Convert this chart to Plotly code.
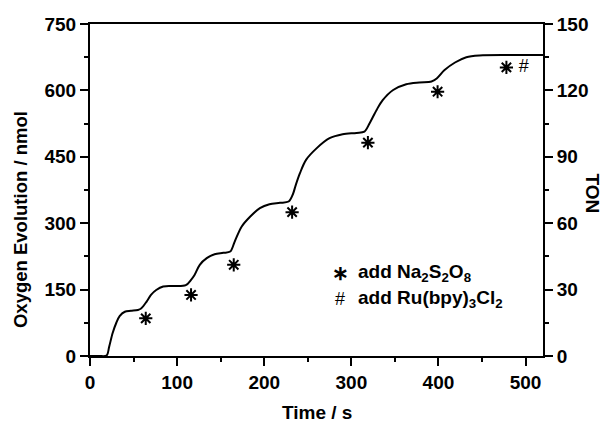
import plotly.graph_objects as go

# Curve (time in s, oxygen in nmol)
time_s = [0, 10, 19, 22, 26, 30, 34, 40, 47, 55, 59, 65, 70, 76, 84, 97, 110, 116, 120, 126,
          134, 143, 153, 161, 166, 174, 184, 195, 206, 218, 228, 233, 236, 241, 248, 260, 275, 290, 306, 315, 321,
          329, 336, 348, 363, 378, 392, 398, 407, 419, 432, 447, 482, 520]
oxygen_nmol = [0, 0, 1, 21, 52, 74, 90, 100, 102, 104, 108, 123, 138, 149, 157, 158, 160, 172, 183, 206,
               221, 230, 233, 236, 258, 292, 315, 334, 343, 346, 349, 366, 385, 413, 443, 469, 492, 501, 504, 507, 526,
               556, 578, 601, 614, 618, 620, 627, 646, 663, 675, 679, 680, 680]

# Na2S2O8 additions (asterisks) and Ru(bpy)3Cl2 addition (hash)
add_na_time = [64, 116, 165, 232, 319, 399, 478]
add_na_val = [85, 138, 206, 325, 482, 597, 652]
add_ru_time = [498]
add_ru_val = [652]

FONT = "Liberation Sans, Arial, sans-serif"

fig = go.Figure()
fig.add_trace(go.Scatter(x=time_s, y=oxygen_nmol, mode="lines",
                         line=dict(color="black", width=2, shape="spline", smoothing=0.9),
                         showlegend=False))
fig.add_trace(go.Scatter(x=add_na_time, y=add_na_val, mode="markers",
                         marker=dict(symbol="asterisk-open", size=11, color="black",
                                     line=dict(color="black", width=2)),
                         showlegend=False))
fig.add_trace(go.Scatter(x=add_ru_time, y=add_ru_val, mode="text", text=["#"],
                         textfont=dict(family=FONT, size=18, color="black"),
                         showlegend=False))
# invisible trace to activate right axis
fig.add_trace(go.Scatter(x=[0], y=[0], yaxis="y2", mode="markers",
                         marker=dict(opacity=0), showlegend=False, hoverinfo="skip"))

axis_common = dict(showline=True, linewidth=2, linecolor="black", ticks="outside",
                   ticklen=8, tickwidth=2, tickcolor="black", showgrid=False, zeroline=False,
                   tickfont=dict(family=FONT, size=19, color="black", weight="bold"))

fig.update_layout(
    width=610, height=423,
    margin=dict(l=90, r=67, t=24, b=67),
    paper_bgcolor="white", plot_bgcolor="white",
    xaxis=dict(range=[0, 520], dtick=100, tick0=0, mirror=True,
               minor=dict(dtick=50, ticks="outside", ticklen=4, tickwidth=2, tickcolor="black"),
               **axis_common),
    yaxis=dict(range=[0, 750], dtick=150, tick0=0,
               minor=dict(dtick=75, ticks="outside", ticklen=4, tickwidth=2, tickcolor="black"),
               **axis_common),
    yaxis2=dict(range=[0, 150], dtick=30, tick0=0, overlaying="y", side="right",
                minor=dict(dtick=15, ticks="outside", ticklen=4, tickwidth=2, tickcolor="black"),
                **axis_common),
    annotations=[
        dict(text="Time / s", xref="paper", yref="paper", x=0.5, y=-0.169, xanchor="center",
             yanchor="middle", showarrow=False,
             font=dict(family=FONT, size=19, color="black", weight="bold")),
        dict(text="Oxygen Evolution / nmol", xref="paper", yref="paper", x=-0.152, y=0.41,
             xanchor="center", yanchor="middle", textangle=-90, showarrow=False,
             font=dict(family=FONT, size=18.5, color="black", weight="bold")),
        dict(text="TON", xref="paper", yref="paper", x=1.11, y=0.49,
             xanchor="center", yanchor="middle", textangle=90, showarrow=False,
             font=dict(family=FONT, size=19, color="black", weight="bold")),
        dict(text="∗", xref="x", yref="y", x=287, y=188, xanchor="center", yanchor="middle",
             showarrow=False, font=dict(family=FONT, size=20, color="black", weight="bold")),
        dict(text="add Na<sub>2</sub>S<sub>2</sub>O<sub>8</sub>", xref="x", yref="y", x=305, y=188,
             xanchor="left", yanchor="middle", showarrow=False,
             font=dict(family=FONT, size=19, color="black", weight="bold")),
        dict(text="#", xref="x", yref="y", x=287, y=128, xanchor="center", yanchor="middle",
             showarrow=False, font=dict(family=FONT, size=18, color="black")),
        dict(text="add Ru(bpy)<sub>3</sub>Cl<sub>2</sub>", xref="x", yref="y", x=305, y=128,
             xanchor="left", yanchor="middle", showarrow=False,
             font=dict(family=FONT, size=19, color="black", weight="bold")),
    ],
)

fig.write_html("out.html")
